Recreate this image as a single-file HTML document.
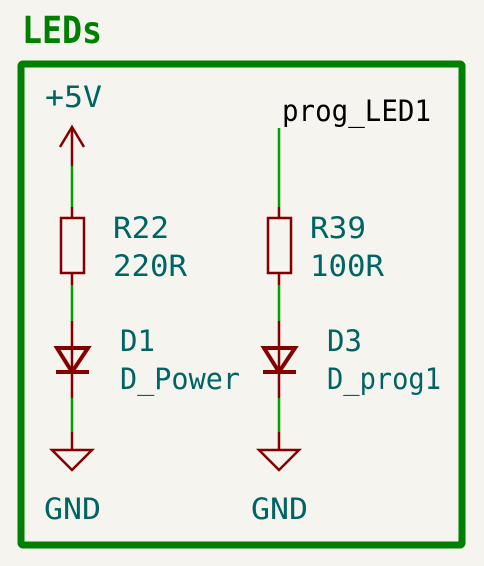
<!DOCTYPE html>
<html><head><style>
body{margin:0;background:#f5f4ef;}
svg{display:block}
text{font-family:"DejaVu Sans Mono","Liberation Mono",monospace;fill:#006464;font-size:29px}
</style></head><body>
<svg width="484" height="566" viewBox="0 0 484 566">
<rect width="484" height="566" fill="#f5f4ef"/>
<text x="22" y="43" textLength="80" lengthAdjust="spacingAndGlyphs" style="font-family:'DejaVu Sans Mono',monospace;font-weight:bold;fill:#008000;font-size:37px">LEDs</text>
<rect x="21" y="64" width="441" height="481" fill="none" stroke="#008000" stroke-width="7" rx="2"/>
<g stroke-width="2.5" fill="none">
<line x1="72" y1="127" x2="72" y2="166" stroke="#840000"/>
<polyline points="60,147 72,127 84,147" stroke="#840000"/>
<line x1="72" y1="166" x2="72" y2="207" stroke="#00a000"/>
<line x1="72" y1="207" x2="72" y2="218" stroke="#840000"/>
<rect x="61" y="218" width="23" height="55" stroke="#840000"/>
<line x1="72" y1="273" x2="72" y2="285" stroke="#840000"/>
<line x1="72" y1="285" x2="72" y2="321" stroke="#00a000"/>
<line x1="72" y1="321" x2="72" y2="398" stroke="#840000"/>
<polygon points="57,348 88,348 72,372" stroke="#840000" stroke-width="4"/>
<line x1="56" y1="372" x2="89" y2="372" stroke="#840000" stroke-width="4"/>
<line x1="72" y1="398" x2="72" y2="432" stroke="#00a000"/>
<line x1="72" y1="432" x2="72" y2="450" stroke="#840000"/>
<polygon points="52,450 92,450 72,470" stroke="#840000"/>
<line x1="279" y1="128" x2="279" y2="207" stroke="#00a000"/>
<line x1="279" y1="207" x2="279" y2="218" stroke="#840000"/>
<rect x="268" y="218" width="23" height="55" stroke="#840000"/>
<line x1="279" y1="273" x2="279" y2="285" stroke="#840000"/>
<line x1="279" y1="285" x2="279" y2="321" stroke="#00a000"/>
<line x1="279" y1="321" x2="279" y2="398" stroke="#840000"/>
<polygon points="264,348 295,348 279,372" stroke="#840000" stroke-width="4"/>
<line x1="263" y1="372" x2="296" y2="372" stroke="#840000" stroke-width="4"/>
<line x1="279" y1="398" x2="279" y2="432" stroke="#00a000"/>
<line x1="279" y1="432" x2="279" y2="450" stroke="#840000"/>
<polygon points="259,450 299,450 279,470" stroke="#840000"/>
</g>
<g lengthAdjust="spacingAndGlyphs">
<text x="45" y="107" textLength="57" lengthAdjust="spacingAndGlyphs">+5V</text>
<text x="282" y="121" textLength="149" lengthAdjust="spacingAndGlyphs" style="fill:#000">prog_LED1</text>
<text x="113" y="238" textLength="56" lengthAdjust="spacingAndGlyphs">R22</text>
<text x="113" y="276" textLength="74" lengthAdjust="spacingAndGlyphs">220R</text>
<text x="120" y="351" textLength="35" lengthAdjust="spacingAndGlyphs">D1</text>
<text x="120" y="389" textLength="120" lengthAdjust="spacingAndGlyphs">D_Power</text>
<text x="310" y="238" textLength="56" lengthAdjust="spacingAndGlyphs">R39</text>
<text x="310" y="276" textLength="74" lengthAdjust="spacingAndGlyphs">100R</text>
<text x="327" y="351" textLength="35" lengthAdjust="spacingAndGlyphs">D3</text>
<text x="327" y="389" textLength="114" lengthAdjust="spacingAndGlyphs">D_prog1</text>
<text x="44" y="519" textLength="57" lengthAdjust="spacingAndGlyphs">GND</text>
<text x="251" y="519" textLength="57" lengthAdjust="spacingAndGlyphs">GND</text>
</g>
</svg>
</body></html>
